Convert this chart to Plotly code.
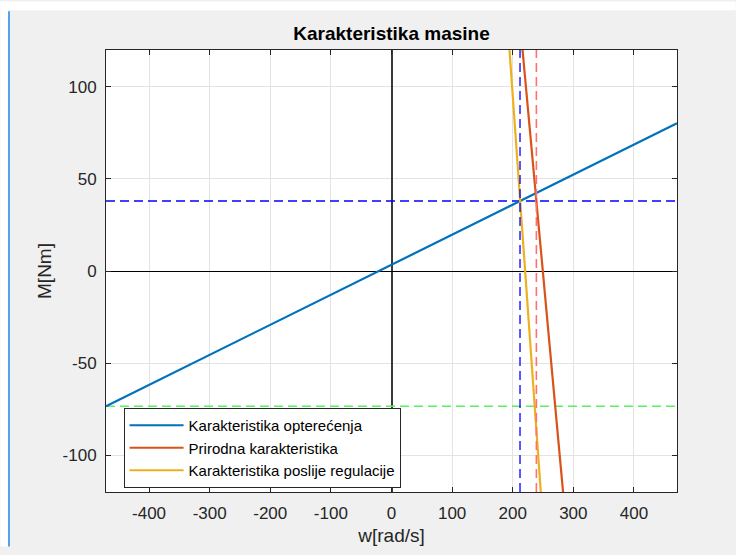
import plotly.graph_objects as go

# ---- data ----
w_load = [-471, 471]
M_load = [-73.4, 80.2]

w_nat = [209.5, 290.0]
M_nat = [144.0, -145.0]

w_reg = [189.5, 251.0]
M_reg = [144.0, -142.0]

w_op_reg = 212.0      # blue dashed vertical
w_op_nat = 239.0      # red dashed vertical
M_op = 38.0           # blue dashed horizontal
M_start = -73.4       # green dashed horizontal

x_range = [-471, 471]
y_range = [-120, 120]
x_ticks = [-400, -300, -200, -100, 0, 100, 200, 300, 400]
x_tick_text = ["-400", "-300", "-200", "-100", "0", "100", "200", "300", "400"]
y_ticks = [-100, -50, 0, 50, 100]
y_tick_text = ["-100", "-50", "0", "50", "100"]

series_names = ["Karakteristika opterećenja", "Prirodna karakteristika",
                "Karakteristika poslije regulacije"]
series_colors = ["#0072BD", "#D95319", "#EDB120"]

DASH = "9px,5px"
fig = go.Figure()

fig.add_trace(go.Scatter(x=x_range, y=[M_op, M_op], mode="lines",
                         line=dict(color="#0000FF", width=1.3, dash=DASH),
                         showlegend=False, hoverinfo="skip"))
fig.add_trace(go.Scatter(x=x_range, y=[M_start, M_start], mode="lines",
                         line=dict(color="#5CF05C", width=1.6, dash=DASH),
                         showlegend=False, hoverinfo="skip"))

fig.add_trace(go.Scatter(x=w_load, y=M_load, mode="lines", name=series_names[0],
                         line=dict(color=series_colors[0], width=2.2)))
fig.add_trace(go.Scatter(x=w_nat, y=M_nat, mode="lines", name=series_names[1],
                         line=dict(color=series_colors[1], width=2.2)))
fig.add_trace(go.Scatter(x=w_reg, y=M_reg, mode="lines", name=series_names[2],
                         line=dict(color=series_colors[2], width=2.2)))

fig.add_trace(go.Scatter(x=[w_op_reg, w_op_reg], y=y_range, mode="lines",
                         line=dict(color="#0000FF", width=1.3, dash=DASH),
                         showlegend=False, hoverinfo="skip"))
fig.add_trace(go.Scatter(x=[w_op_nat, w_op_nat], y=y_range, mode="lines",
                         line=dict(color="#FF7070", width=1.6, dash=DASH),
                         showlegend=False, hoverinfo="skip"))

FONT = "Liberation Sans, Arial, sans-serif"
tick_font = dict(family=FONT, size=17, color="#262626")

W, H = 736, 555
L, R, T, B = 105.7, 58.7, 49.5, 55.5
PW, PH = W - L - R, H - T - B

def px_x(px):
    return (px - L) / PW

def px_y(py):
    return (H - B - py) / PH

fig.update_layout(
    width=W, height=H,
    margin=dict(l=L, r=R, t=T, b=B),
    paper_bgcolor="#F0F0F0",
    plot_bgcolor="#FFFFFF",
    font=dict(family=FONT, color="#262626"),
    title=dict(text="<b>Karakteristika masine</b>", x=(L + PW / 2) / W, xanchor="center",
               y=1 - 33 / H, yanchor="middle",
               font=dict(size=19, color="#000000")),
    xaxis=dict(range=x_range, tickvals=x_ticks, ticktext=x_tick_text,
               ticks="inside", ticklen=5,
               tickcolor="#262626", showline=True, linecolor="#262626", linewidth=1,
               mirror="ticks", showgrid=True, gridcolor="#E3E3E3", gridwidth=1,
               zeroline=True, zerolinecolor="#3A3A3A", zerolinewidth=1.8,
               tickfont=tick_font, ticklabelstandoff=6,
               title=dict(text="w[rad/s]", font=dict(size=19, color="#262626"), standoff=6)),
    yaxis=dict(range=y_range, tickvals=y_ticks, ticktext=y_tick_text,
               ticks="inside", ticklen=5,
               tickcolor="#262626", showline=True, linecolor="#262626", linewidth=1,
               mirror="ticks", showgrid=True, gridcolor="#E3E3E3", gridwidth=1,
               zeroline=True, zerolinecolor="#000000", zerolinewidth=1,
               tickfont=tick_font, ticklabelstandoff=5,
               title=dict(text="M[Nm]", font=dict(size=19, color="#262626"), standoff=5)),
    legend=dict(x=px_x(123.3), y=px_y(414),
                xanchor="left", yanchor="top",
                bgcolor="#FFFFFF", bordercolor="#262626", borderwidth=1,
                font=dict(family=FONT, size=15, color="#000000"), itemwidth=54,
                tracegroupgap=0),
    showlegend=True,
    shapes=[
        dict(type="rect", xref="paper", yref="paper",
             x0=px_x(0), x1=px_x(W), y0=px_y(9), y1=px_y(0),
             fillcolor="#FFFFFF", line=dict(width=0), layer="below"),
        dict(type="rect", xref="paper", yref="paper",
             x0=px_x(0), x1=px_x(8), y0=px_y(H), y1=px_y(0),
             fillcolor="#FFFFFF", line=dict(width=0), layer="below"),
        dict(type="line", xref="paper", yref="paper",
             x0=px_x(8.6), x1=px_x(8.6), y0=px_y(H), y1=px_y(10),
             line=dict(color="#1E88E5", width=1.5), layer="below"),
    ],
)

fig.write_html(
    "out.html",
    config={"displayModeBar": False},
    post_script="document.body.style.margin='0px';"
                "document.documentElement.style.overflow='hidden';",
)
